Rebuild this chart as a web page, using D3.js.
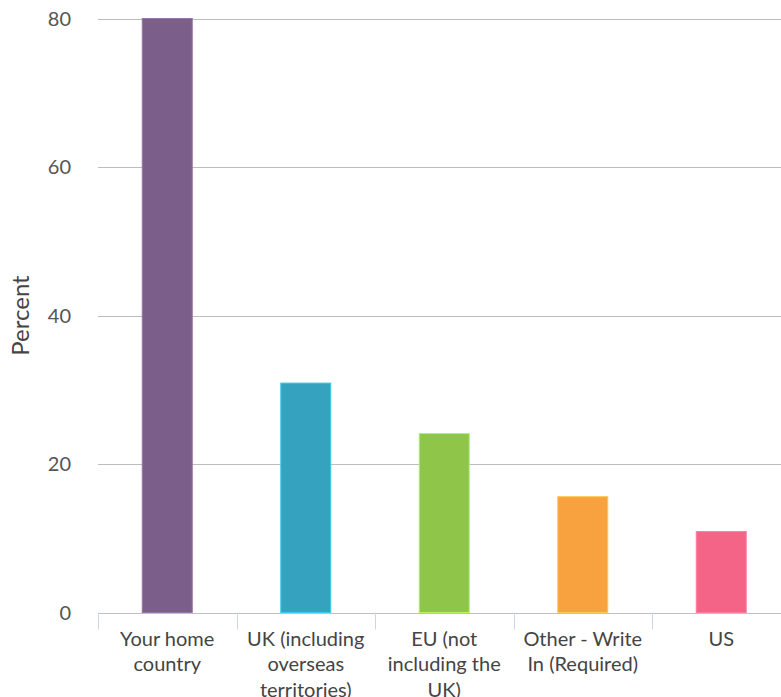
<!DOCTYPE html>
<html>
<head>
<meta charset="utf-8">
<script src="https://cdn.jsdelivr.net/npm/d3@7/dist/d3.min.js"></script>
<style>
  html, body { margin: 0; padding: 0; background: #fff; }
  svg { display: block; font-family: Lato, "Open Sans", sans-serif; }
</style>
</head>
<body>
<svg id="chart" width="781" height="697"></svg>
<script>
// Where respondents are planning to live: share of respondents per destination
const categories = ["Your home country", "UK (including overseas territories)", "EU (not including the UK)", "Other - Write In (Required)", "US"];
const percents = [80, 30.9, 24.1, 15.6, 10.9];
const barColors = ["#7b5e8a", "#35a3bf", "#8fc649", "#f7a23f", "#f46486"];
const yTicks = [0, 20, 40, 60, 80];
const yTitle = "Percent";

const svg = d3.select("#chart");
const margin = { left: 98, top: 18.5, bottom: 84.5 };
const plotRight = 790.5;
const plotBottom = 697 - margin.bottom;

const x = d3.scaleBand()
  .domain(categories)
  .range([margin.left, plotRight])
  .paddingInner(0)
  .paddingOuter(0);

const y = d3.scaleLinear()
  .domain([0, 80])
  .range([plotBottom, margin.top]);

// Horizontal grid lines
svg.append("g")
  .selectAll("line")
  .data(yTicks.filter(t => t > 0))
  .join("line")
  .attr("x1", margin.left)
  .attr("x2", plotRight)
  .attr("y1", d => Math.round(y(d)) + 0.5)
  .attr("y2", d => Math.round(y(d)) + 0.5)
  .attr("stroke", "#bdbdbd")
  .attr("stroke-width", 1);

// Y axis labels
const yAxis = d3.axisLeft(y).tickValues(yTicks).tickSize(0).tickPadding(0);
const yg = svg.append("g")
  .attr("transform", `translate(${margin.left - 27},0)`)
  .call(yAxis);
yg.select(".domain").remove();
yg.selectAll("text")
  .attr("font-family", "Lato, sans-serif")
  .attr("font-size", 20)
  .attr("fill", "#555")
  .attr("dy", "0.34em");

// Y axis title
svg.append("text")
  .attr("transform", `translate(29,${(margin.top + plotBottom) / 2}) rotate(-90)`)
  .attr("text-anchor", "middle")
  .attr("font-size", 24)
  .attr("fill", "#444")
  .text(yTitle);

// Bars
const barW = 50;
svg.append("g")
  .selectAll("rect")
  .data(categories.map((c, i) => ({ c, v: percents[i], color: barColors[i] })))
  .join("rect")
  .attr("x", d => x(d.c) + x.bandwidth() / 2 - barW / 2)
  .attr("width", barW)
  .attr("y", d => y(d.v))
  .attr("height", d => plotBottom - y(d.v))
  .attr("fill", d => d.color)
  .attr("stroke", d => d3.color(d.color).brighter(0.6))
  .attr("stroke-width", 1);

// X axis with category separators
const xg = svg.append("g");
xg.append("line")
  .attr("x1", margin.left)
  .attr("x2", plotRight)
  .attr("y1", Math.round(plotBottom) + 0.5)
  .attr("y2", Math.round(plotBottom) + 0.5)
  .attr("stroke", "#c0c0c0");
xg.selectAll("line.sep")
  .data(categories)
  .join("line")
  .attr("class", "sep")
  .attr("x1", d => Math.round(x(d)) + 0.5)
  .attr("x2", d => Math.round(x(d)) + 0.5)
  .attr("y1", plotBottom)
  .attr("y2", plotBottom + 17)
  .attr("stroke", "#ccd6eb");

// Category labels, wrapped to the band width
function wrapLines(text, maxW, ctx) {
  const words = text.split(" ");
  const lines = [];
  let line = words[0];
  for (let i = 1; i < words.length; i++) {
    const test = line + " " + words[i];
    if (ctx.measureText(test).width > maxW) {
      lines.push(line);
      line = words[i];
    } else {
      line = test;
    }
  }
  lines.push(line);
  return lines;
}
const ctx = document.createElement("canvas").getContext("2d");
ctx.font = "20px Lato";
const labels = xg.selectAll("text.cat")
  .data(categories)
  .join("text")
  .attr("class", "cat")
  .attr("text-anchor", "middle")
  .attr("font-size", 20)
  .attr("fill", "#444");
labels.each(function (d) {
  const lines = wrapLines(d, 128, ctx);
  const t = d3.select(this);
  lines.forEach((ln, i) => {
    t.append("tspan")
      .attr("x", x(d) + x.bandwidth() / 2)
      .attr("y", plotBottom + 33 + i * 25.5)
      .text(ln);
  });
});
</script>
</body>
</html>
